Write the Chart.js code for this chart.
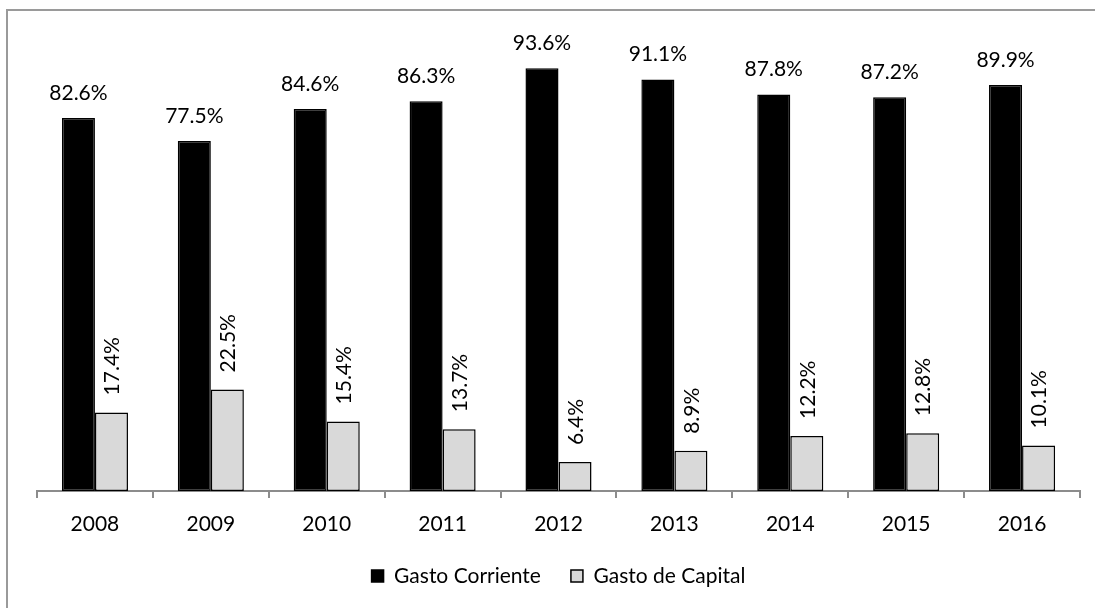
<!DOCTYPE html>
<html>
<head>
<meta charset="utf-8">
<script src="https://cdn.jsdelivr.net/npm/chart.js@4"></script>
<style>
  html, body { margin: 0; padding: 0; background: #fff; overflow: hidden; }
  #grafico { display: block; }
</style>
</head>
<body>
<canvas id="grafico" width="1095" height="608"></canvas>
<script>
const anos = ['2008', '2009', '2010', '2011', '2012', '2013', '2014', '2015', '2016'];
const gastoCorriente = [82.6, 77.5, 84.6, 86.3, 93.6, 91.1, 87.8, 87.2, 89.9];
const gastoCapital = [17.4, 22.5, 15.4, 13.7, 6.4, 8.9, 12.2, 12.8, 10.1];

const fonte = 'Lato, "Open Sans", sans-serif';

// moldura cinza do grafico
const moldura = {
  id: 'moldura',
  beforeDraw(chart) {
    const ctx = chart.ctx;
    ctx.save();
    ctx.strokeStyle = '#9a9a9a';
    ctx.lineWidth = 2;
    ctx.strokeRect(7, 10, 1200, 800);
    ctx.restore();
  }
};

// rotulos de valor em cima das barras
const rotulos = {
  id: 'rotulos',
  afterDatasetsDraw(chart) {
    const ctx = chart.ctx;
    ctx.save();
    ctx.font = '21px ' + fonte;
    ctx.fillStyle = '#000';
    chart.data.datasets.forEach((ds, i) => {
      const meta = chart.getDatasetMeta(i);
      meta.data.forEach((barra, j) => {
        const texto = ds.data[j].toFixed(1) + '%';
        if (i === 0) {
          ctx.textAlign = 'center';
          ctx.textBaseline = 'middle';
          ctx.fillText(texto, barra.x, barra.y - 25);
        } else {
          ctx.save();
          ctx.translate(barra.x + 1, barra.y - 17);
          ctx.rotate(-Math.PI / 2);
          ctx.textAlign = 'left';
          ctx.textBaseline = 'middle';
          ctx.fillText(texto, 0, 0);
          ctx.restore();
        }
      });
    });
    ctx.restore();
  }
};

new Chart(document.getElementById('grafico').getContext('2d'), {
  type: 'bar',
  data: {
    labels: anos,
    datasets: [{
      label: 'Gasto Corriente',
      data: gastoCorriente,
      backgroundColor: '#000000',
      borderColor: '#000000',
      borderWidth: 1.5,
      borderSkipped: false
    }, {
      label: 'Gasto de Capital',
      data: gastoCapital,
      backgroundColor: '#d9d9d9',
      borderColor: '#000000',
      borderWidth: 1.5,
      borderSkipped: false
    }]
  },
  options: {
    responsive: false,
    animation: false,
    categoryPercentage: 0.57,
    barPercentage: 1,
    layout: { padding: { left: 37, right: 15, top: 39.4, bottom: 11.5 } },
    scales: {
      x: {
        grid: {
          display: true,
          drawOnChartArea: false,
          offset: true,
          tickLength: 7,
          color: '#8c8c8c',
          lineWidth: 2
        },
        border: { display: true, color: '#8c8c8c', width: 2 },
        ticks: { color: '#000', padding: 14, font: { family: fonte, size: 21 } },
        afterFit(scale) { scale.height = 44.5; }
      },
      y: {
        display: false,
        min: 0,
        max: 100
      }
    },
    plugins: {
      legend: {
        position: 'bottom',
        labels: {
          boxWidth: 12,
          boxHeight: 12,
          padding: 30,
          color: '#000',
          font: { family: fonte, size: 21 }
        }
      },
      tooltip: { enabled: false }
    }
  },
  plugins: [moldura, rotulos]
});
</script>
</body>
</html>
